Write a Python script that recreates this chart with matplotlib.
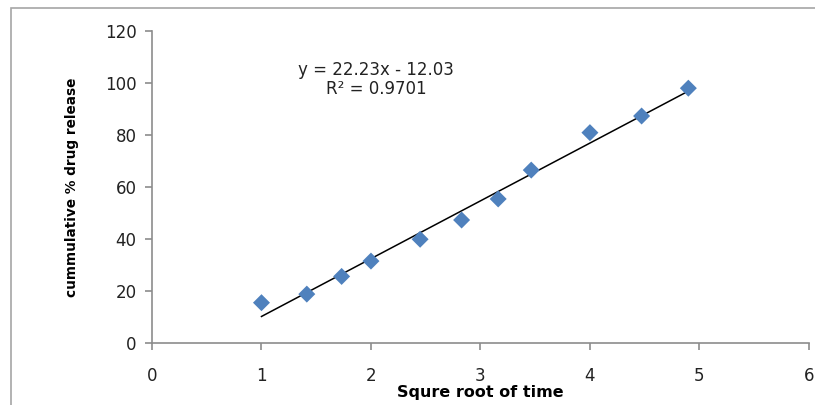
import numpy as np
import matplotlib.pyplot as plt
from matplotlib.patches import Rectangle

# ── Data ─────────────────────────────────────────────────────────────────────
sqrt_time = [1.0, 1.414, 1.732, 2.0, 2.449, 2.828, 3.162, 3.464, 4.0, 4.472, 4.899]
release   = [15.5, 18.8, 25.6, 31.5, 39.9, 47.3, 55.4, 66.5, 80.9, 87.3, 98.0]

slope, intercept = 22.23, -12.03
eq_text = 'y = 22.23x - 12.03\nR² = 0.9701'

x_ticks = [0, 1, 2, 3, 4, 5, 6]
y_ticks = [0, 20, 40, 60, 80, 100, 120]

plt.rcParams['font.family'] = ['DejaVu Sans']

fig = plt.figure(figsize=(8.15, 4.05), dpi=100)
ax = fig.add_axes([0.1865, 0.1531, 0.806, 0.7704])

# outer chart border (cut off at right/bottom like the original)
fig.patches.append(Rectangle((0.0135, -0.05), 1.1, 1.03, transform=fig.transFigure,
                             fill=False, edgecolor='#a6a6a6', linewidth=1.2))

ax.scatter(sqrt_time, release, marker='D', s=75, color='#4f81bd', zorder=3,
           edgecolors='none')

# linear trendline over the data range
xs = np.array([min(sqrt_time), max(sqrt_time)])
ax.plot(xs, slope * xs + intercept, color='black', linewidth=1.1, zorder=2)

ax.text(2.05, 101.3, eq_text, ha='center', va='center', fontsize=12,
        linespacing=1.05, color='#222222')

ax.set_xlim(0, 6)
ax.set_ylim(0, 120)
ax.set_xticks(x_ticks)
ax.set_yticks(y_ticks)
for s in ['top', 'right']:
    ax.spines[s].set_visible(False)
for s in ['left', 'bottom']:
    ax.spines[s].set_color('#8c8c8c')
    ax.spines[s].set_linewidth(1.2)
ax.tick_params(direction='out', length=5, width=1.2, color='#8c8c8c',
               labelsize=12, labelcolor='#222222')
ax.tick_params(axis='x', pad=12)
ax.tick_params(axis='y', pad=6)

ax.set_xlabel('Squre root of time', fontsize=11.5, fontweight='bold', labelpad=0)
ax.set_ylabel('cummulative % drug release', fontsize=9.8, fontweight='bold', labelpad=19)

fig.savefig('out.png', dpi=100)
